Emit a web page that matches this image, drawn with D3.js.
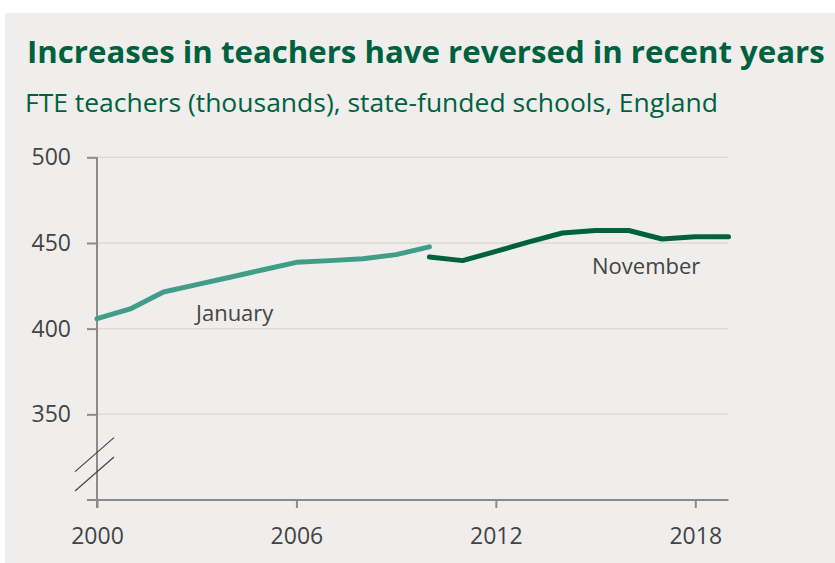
<!DOCTYPE html>
<html lang="en">
<head>
  <meta charset="utf-8">
  <script src="https://d3js.org/d3.v7.min.js"></script>
  <style>
    body { margin: 0; background: #fff; }
    svg text { font-family: "Open Sans", "Noto Sans", sans-serif; }
  </style>
</head>
<body>
  <svg width="835" height="563"></svg>

  <script>
    const width = 835, height = 563;

    // data (thousands of FTE teachers)
    const janYears = [2000, 2001, 2002, 2003, 2004, 2005, 2006, 2007, 2008, 2009, 2010];
    const janValues = [405.8, 411.5, 421.4, 425.7, 430.0, 434.4, 438.7, 439.7, 440.8, 443.2, 447.7];
    const novYears = [2010, 2011, 2012, 2013, 2014, 2015, 2016, 2017, 2018, 2019];
    const novValues = [441.8, 439.7, 445.1, 450.6, 455.8, 457.3, 457.3, 452.3, 453.7, 453.7];
    const xTicks = [2000, 2006, 2012, 2018];
    const yTicks = [350, 400, 450, 500];

    const titleText = "Increases in teachers have reversed in recent years";
    const subtitleText = "FTE teachers (thousands), state-funded schools, England";

    const green = "#00613f";
    const teal = "#409e88";
    const textGrey = "#444";
    const axisGrey = "#8a8a8a";

    const svg = d3.select("svg");

    svg.append("rect")
      .attr("x", 5).attr("y", 13)
      .attr("width", width - 5).attr("height", height - 13)
      .attr("fill", "#efeeec");

    // shrink a text until it fits the width it has in the original
    function fitText(sel, size, target) {
      sel.style("font-size", size + "px");
      const w = sel.node().getComputedTextLength();
      if (w > target) sel.style("font-size", (size * target / w) + "px");
    }

    const title = svg.append("text")
      .attr("x", 27).attr("y", 63)
      .attr("fill", green)
      .style("font-weight", "bold")
      .text(titleText);
    fitText(title, 32, 798);

    // subtitle font in the original is wider, so stretch to its width
    const subtitle = svg.append("text")
      .attr("x", 25).attr("y", 112)
      .attr("fill", green)
      .style("font-size", "25px")
      .text(subtitleText);
    const subW = subtitle.node().getComputedTextLength();
    if (subW < 693) subtitle.attr("textLength", 693).attr("lengthAdjust", "spacingAndGlyphs");
    else fitText(subtitle, 25, 693);

    const x = d3.scaleLinear().domain([2000, 2019]).range([97, 728.5]);
    const y = d3.scaleLinear().domain([300, 500]).range([500, 157.3]);

    // gridlines
    svg.append("g").selectAll("line")
      .data(yTicks)
      .enter().append("line")
      .attr("x1", x(2000)).attr("x2", x(2019))
      .attr("y1", d => y(d)).attr("y2", d => y(d))
      .attr("stroke", "#dbdad8")
      .attr("stroke-width", 1.5);

    // y axis
    const yAxis = svg.append("g")
      .attr("transform", `translate(${x(2000)},0)`)
      .call(d3.axisLeft(y).tickValues(yTicks).tickSize(10).tickPadding(16).tickFormat(d3.format("d")));
    yAxis.select(".domain").remove();
    yAxis.append("line")
      .attr("x1", 0).attr("x2", 0)
      .attr("y1", y(500)).attr("y2", y(300) + 8)
      .attr("stroke", axisGrey).attr("stroke-width", 2);
    yAxis.selectAll(".tick line").attr("stroke", axisGrey).attr("stroke-width", 2);
    yAxis.selectAll(".tick text").attr("fill", textGrey).style("font-size", "23px");

    // x axis
    const xAxis = svg.append("g")
      .attr("transform", `translate(0,${y(300)})`)
      .call(d3.axisBottom(x).tickValues(xTicks).tickSize(8).tickPadding(20).tickFormat(d3.format("d")));
    xAxis.select(".domain").remove();
    xAxis.append("line")
      .attr("x1", x(2000) - 10).attr("x2", x(2019))
      .attr("y1", 0).attr("y2", 0)
      .attr("stroke", axisGrey).attr("stroke-width", 2);
    xAxis.selectAll(".tick line").attr("stroke", axisGrey).attr("stroke-width", 2);
    xAxis.selectAll(".tick text").attr("fill", textGrey).style("font-size", "23px");

    // axis break marks
    const breakY = [y(326.5), y(315.2)];
    svg.append("g").selectAll("line")
      .data(breakY)
      .enter().append("line")
      .attr("x1", x(2000) - 22).attr("x2", x(2000) + 17)
      .attr("y1", d => d + 17).attr("y2", d => d - 17)
      .attr("stroke", "#444").attr("stroke-width", 1.2);

    const line = d3.line().x(d => x(d[0])).y(d => y(d[1]));

    svg.append("path")
      .datum(janYears.map((yr, i) => [yr, janValues[i]]))
      .attr("d", line)
      .attr("fill", "none")
      .attr("stroke", teal)
      .attr("stroke-width", 5)
      .attr("stroke-linecap", "round")
      .attr("stroke-linejoin", "round");

    svg.append("path")
      .datum(novYears.map((yr, i) => [yr, novValues[i]]))
      .attr("d", line)
      .attr("fill", "none")
      .attr("stroke", green)
      .attr("stroke-width", 5)
      .attr("stroke-linecap", "round")
      .attr("stroke-linejoin", "round");

    svg.append("text")
      .attr("x", 196).attr("y", 321)
      .attr("fill", textGrey)
      .style("font-size", "22px")
      .text("January");

    svg.append("text")
      .attr("x", 592).attr("y", 274)
      .attr("fill", textGrey)
      .style("font-size", "22px")
      .text("November");
  </script>
</body>
</html>
